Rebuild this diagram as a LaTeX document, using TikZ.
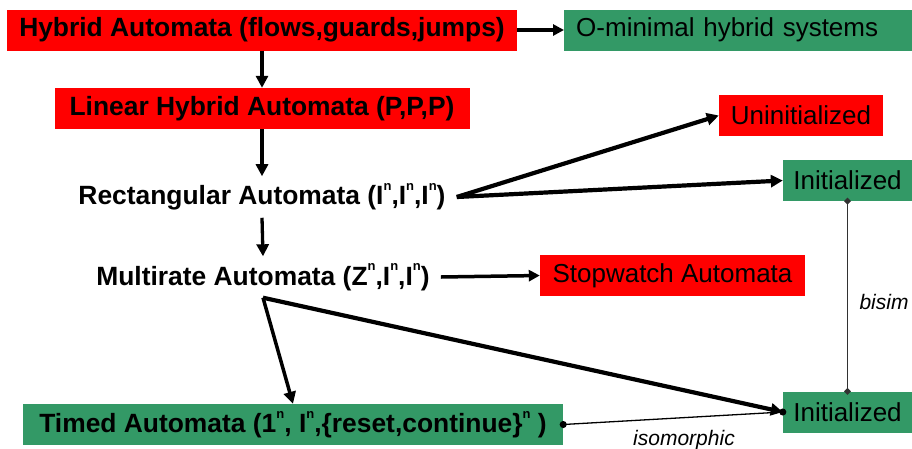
\documentclass[tikz,border=0pt]{standalone}
\usepackage{fontspec}
\setmainfont{Liberation Sans}
\usetikzlibrary{arrows.meta,calc}
\definecolor{boxred}{RGB}{255,0,0}
\definecolor{boxgreen}{RGB}{51,153,102}
\definecolor{linkgray}{RGB}{50,50,50}
% small raised "n" used in the tuple signatures
\newcommand{\supn}{\raisebox{0.55em}{\fontsize{13}{13}\selectfont n}}

\begin{document}
\begin{tikzpicture}[x=1pt,y=-1pt,
  lbl/.style={font=\fontsize{26}{30}\selectfont},
  boldlbl/.style={font=\fontsize{26.4}{30}\selectfont\bfseries},
  itlbl/.style={font=\fontsize{21}{24}\selectfont\itshape},
  redbox/.style={fill=boxred, inner sep=0pt, minimum height=41pt},
  greenbox/.style={fill=boxgreen, inner sep=0pt, minimum height=41pt},
  plain/.style={inner xsep=11pt, inner ysep=7pt},
  thickarrow/.style={line width=3.5pt, -{Triangle[length=11pt,width=11pt]}},
  heavyarrow/.style={line width=4.2pt, -{Triangle[length=12pt,width=12pt]}},
  downarrow/.style={line width=3.3pt, -{Triangle[length=12pt,width=12pt]}},
  midarrow/.style={line width=3.5pt, -{Triangle[length=12pt,width=12pt]}},
  isolink/.style={line width=1.3pt, shorten <=-3.5pt, shorten >=-3.5pt,
    {Circle[length=7pt]}-{Circle[length=7pt]}},
  bisimlink/.style={line width=1.4pt, draw=linkgray, shorten <=-3.5pt, shorten >=-3.5pt,
    {Turned Square[length=7pt,width=7pt]}-{Turned Square[length=7pt,width=7pt]}}
]
\useasboundingbox (0,0) rectangle (912,448);

% boxes and labels
\node[boldlbl, redbox, minimum width=510pt] (hyb) at (262,30)
  {Hybrid Automata (flows,guards,jumps)};
\node[lbl, greenbox, anchor=west, text width=324pt, inner xsep=12pt, align=left] (omin)
  at (564,30) {O-minimal hybrid systems};
\node[boldlbl, redbox, minimum width=415pt] (lin) at (262,108.5)
  {Linear Hybrid Automata (P,P,P)};
\node[lbl, redbox, minimum width=164pt] (uninit) at (801,115.5) {Uninitialized};
\node[boldlbl, plain] (rect) at (262,197)
  {Rectangular Automata (I\supn,I\supn,I\supn)};
\node[lbl, greenbox, minimum width=129pt] (init1) at (847.5,180.5) {Initialized};
\node[boldlbl, plain] (multi) at (263,277)
  {Multirate Automata (Z\supn,I\supn,I\supn)};
\node[lbl, redbox, minimum width=265pt] (stop) at (672.5,275.5) {Stopwatch Automata};
\node[boldlbl, greenbox, minimum width=540pt] (timed) at (293,424.5)
  {Timed Automata (1\supn, I\supn,\{reset,continue\}\supn\ )};
\node[lbl, greenbox, minimum width=129pt] (init2) at (847.5,412) {Initialized};

% connectors
\draw[thickarrow] (hyb.east) -- (omin.west);
\draw[downarrow] (hyb.south) -- (lin.north);
\draw[downarrow] (lin.south) -- (rect.north);
\draw[heavyarrow] (rect.east) -- (uninit.west);
\draw[heavyarrow] (rect.east) -- (init1.west);
\draw[downarrow] (rect.south) -- (multi.north);
\draw[thickarrow] (multi.east) -- (stop.west);
\draw[midarrow] (multi.south) -- (timed.north);
\draw[heavyarrow] (multi.south) -- (init2.west);
\draw[isolink] (timed.east) -- (init2.west)
  node[itlbl, pos=0.5, below=8pt, xshift=11pt] {isomorphic};
\draw[bisimlink] (init1.south) -- (init2.north)
  node[itlbl, pos=0.53, right=8pt] {bisim};
\end{tikzpicture}
\end{document}
